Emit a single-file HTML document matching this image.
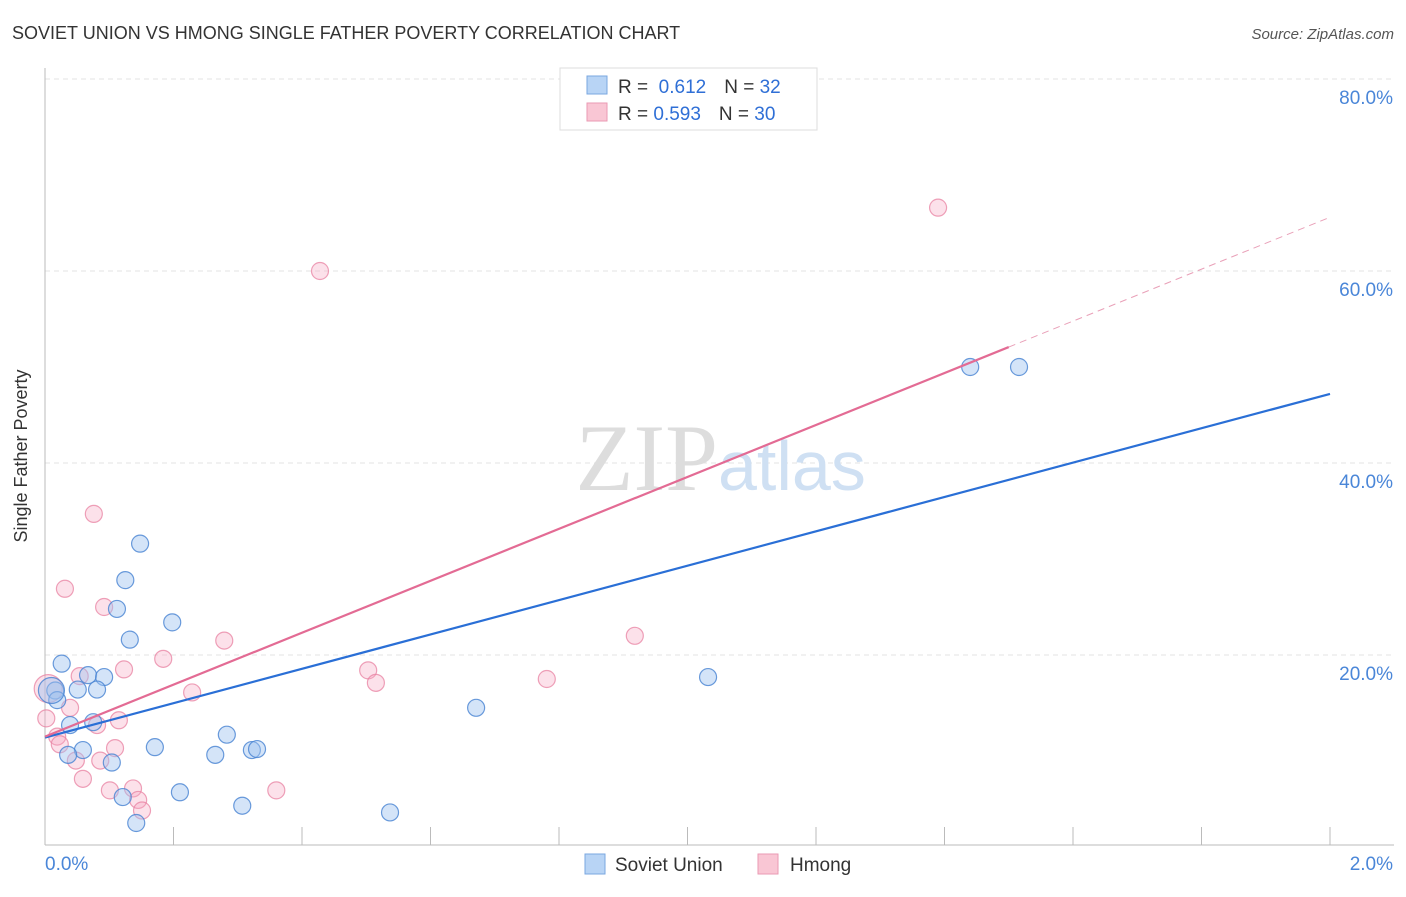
<!DOCTYPE html>
<html><head><meta charset="utf-8"><style>
body{margin:0;background:#fff;font-family:"Liberation Sans",sans-serif;}
</style></head><body>
<svg id="c" width="1406" height="892" xmlns="http://www.w3.org/2000/svg">
<text x="12" y="39" font-size="18" fill="#333">SOVIET UNION VS HMONG SINGLE FATHER POVERTY CORRELATION CHART</text>
<text x="1394" y="39" font-size="15" fill="#555" font-style="italic" text-anchor="end">Source: ZipAtlas.com</text>
<text x="27" y="456" font-size="18" fill="#333" text-anchor="middle" transform="rotate(-90 27 456)">Single Father Poverty</text>
<g id="grid"></g>
<text x="718" y="490" font-size="95" font-family="Liberation Serif" fill="#ddd" text-anchor="end">ZIP</text>
<text x="718" y="490" font-size="70" fill="#cfe0f3">atlas</text>
<g id="marks"></g>
<g>
<rect x="560" y="68" width="257" height="62" fill="#fff" stroke="#ddd"/>
<rect x="587" y="76" width="20" height="18" fill="#b8d4f5" stroke="#7aa7e0"/>
<rect x="587" y="103" width="20" height="18" fill="#f9c6d4" stroke="#ea9ab3"/>
<text x="618" y="93" font-size="19" fill="#333">R = <tspan fill="#2f6fd6">&#160;0.612</tspan><tspan dx="18">N = </tspan><tspan fill="#2f6fd6"> 32</tspan></text>
<text x="618" y="120" font-size="19" fill="#333">R = <tspan fill="#2f6fd6">0.593</tspan><tspan dx="18">N = </tspan><tspan fill="#2f6fd6">30</tspan></text>
</g>
<g>
<rect x="585" y="854" width="20" height="20" fill="#b8d4f5" stroke="#7aa7e0"/>
<text x="615" y="871" font-size="19" fill="#333">Soviet Union</text>
<rect x="758" y="854" width="20" height="20" fill="#f9c6d4" stroke="#ea9ab3"/>
<text x="790" y="871" font-size="19" fill="#333">Hmong</text>
</g>
</svg>
<script>
const yTicks=[20,40,60,80];
const yTickLabels=["20.0%","40.0%","60.0%","80.0%"];
const xTickVals=[0,0.2,0.4,0.6,0.8,1.0,1.2,1.4,1.6,1.8,2.0];
const blueX=[0.148,0.125,0.112,0.132,0.198,0.026,0.067,0.092,0.051,0.081,0.016,0.019,0.039,0.075,0.059,0.036,0.104,0.171,0.283,0.265,0.322,0.330,0.121,0.210,0.307,0.142,0.537,0.671,1.032,1.440,1.516,0.010];
const blueY=[31.6,27.8,24.8,21.6,23.4,19.1,17.9,17.7,16.4,16.4,16.3,15.3,12.7,13.0,10.1,9.6,8.8,10.4,11.7,9.6,10.1,10.2,5.2,5.7,4.3,2.5,3.6,14.5,17.7,50.0,50.0,16.3];
const pinkX=[0.076,0.031,0.092,0.123,0.184,0.279,0.054,0.039,0.005,0.002,0.019,0.023,0.081,0.115,0.229,0.048,0.109,0.059,0.086,0.101,0.137,0.145,0.151,0.360,0.428,0.503,0.515,0.781,0.918,1.390];
const pinkY=[34.7,26.9,25.0,18.5,19.6,21.5,17.8,14.5,16.5,13.4,11.5,10.7,12.7,13.2,16.1,9.0,10.3,7.1,9.0,5.9,6.1,4.9,3.8,5.9,60.0,18.4,17.1,17.5,22.0,66.6];
const blueTrend=[11.4,17.9];
const pinkTrend=[11.5,27.05];
const pinkSolidEnd=1.5;
const sx=v=>45+v*642.5, sy=v=>847-v*9.6;
const NS="http://www.w3.org/2000/svg";
function mk(t,a,p){const e=document.createElementNS(NS,t);for(const k in a)e.setAttribute(k,a[k]);p.appendChild(e);return e;}
const g=document.getElementById('grid'), m=document.getElementById('marks');
yTicks.forEach((t,i)=>{
 const l=mk('line',{x1:45,x2:1394,y1:sy(t),y2:sy(t),stroke:'#e3e3e3','stroke-dasharray':'5,4'},g);
 
 
 const tx=mk('text',{x:1393,y:sy(t)+25,'font-size':19,fill:'#4a86d8','text-anchor':'end'},g);
 tx.textContent=yTickLabels[i];
 
 
});
const topGrid=mk('line',{x1:45,x2:1394,y1:79,y2:79,stroke:'#e3e3e3','stroke-dasharray':'5,4'},g);


const ya=mk('line',{x1:45,x2:45,y1:68,y2:845,stroke:'#bbb'},g);


const xa=mk('line',{x1:45,x2:1394,y1:845,y2:845,stroke:'#bbb'},g);


xTickVals.forEach(v=>{const t=mk('line',{x1:sx(v),x2:sx(v),y1:827,y2:845,stroke:'#bbb'},g);
 
 });
[["0.0%",45,'start'],["2.0%",1393,'end']].forEach(a=>{const t=mk('text',{x:a[1],y:870,'font-size':19,fill:'#4a86d8','text-anchor':a[2]},g);t.textContent=a[0];
 
 });
pinkX.forEach((x,i)=>{const big=i===8;const c=mk('circle',{cx:sx(x),cy:sy(pinkY[i]),r:big?14:8.5,fill:'rgba(246,170,194,0.35)',stroke:'rgba(232,130,162,0.75)','stroke-width':1.2},m);
 
 });
blueX.forEach((x,i)=>{const big=i===31;const c=mk('circle',{cx:sx(x),cy:sy(blueY[i]),r:big?13:8.5,fill:'rgba(160,196,240,0.45)',stroke:'rgba(70,130,210,0.8)','stroke-width':1.2},m);
 
 });
const bl=mk('line',{x1:sx(0),y1:sy(blueTrend[0]),x2:sx(2),y2:sy(blueTrend[0]+2*blueTrend[1]),stroke:'#2a6fd6','stroke-width':2.2},m);


const pl=mk('line',{x1:sx(0),y1:sy(pinkTrend[0]),x2:sx(pinkSolidEnd),y2:sy(pinkTrend[0]+pinkSolidEnd*pinkTrend[1]),stroke:'#e36b94','stroke-width':2.2},m);


const pd=mk('line',{x1:sx(pinkSolidEnd),y1:sy(pinkTrend[0]+pinkSolidEnd*pinkTrend[1]),x2:sx(2),y2:sy(pinkTrend[0]+2*pinkTrend[1]),stroke:'#e9a0b8','stroke-width':1,'stroke-dasharray':'7,5'},m);


</script>
</body></html>
